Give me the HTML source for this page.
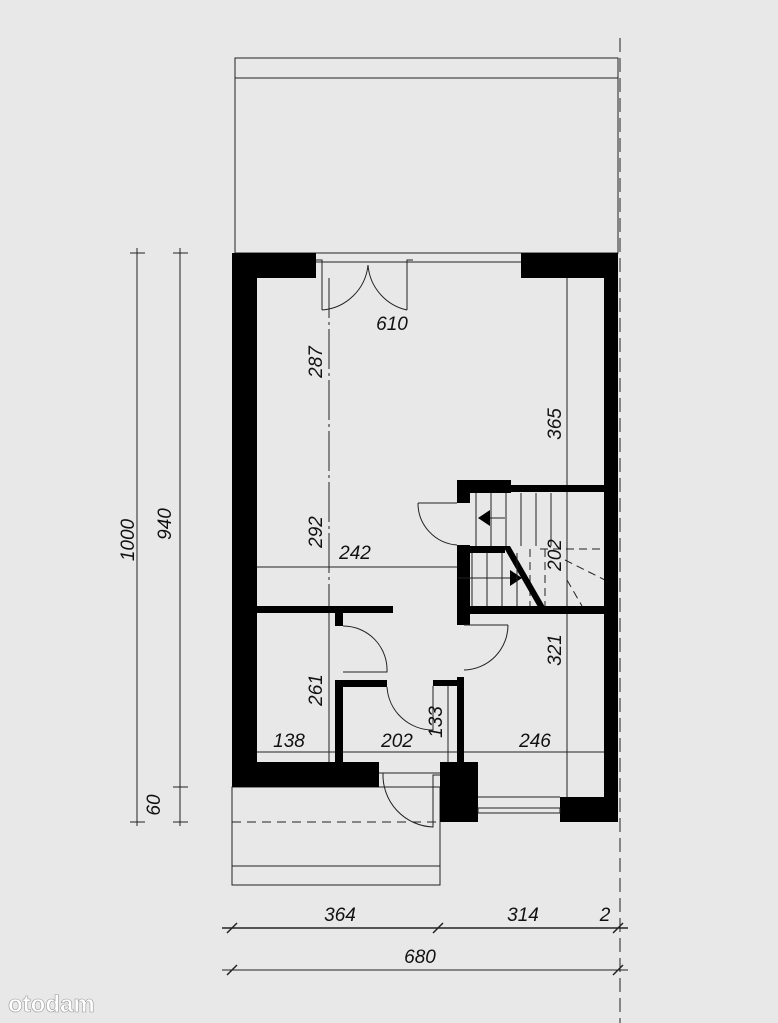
<!DOCTYPE html>
<html><head><meta charset="utf-8"><style>
html,body{margin:0;padding:0;background:#e8e8e8;}
svg{display:block}
text{font-family:"Liberation Sans",sans-serif;font-style:italic;fill:#111;font-size:19px}
</style></head><body>
<svg width="778" height="1023" viewBox="0 0 778 1023">
<rect width="778" height="1023" fill="#e8e8e8"/>
<g stroke="#222" fill="none" stroke-width="1">
<rect x="235" y="58" width="383" height="195"/>
<line x1="235" y1="78" x2="618" y2="78"/>
<rect x="232" y="787" width="208" height="98"/>
<line x1="232" y1="866" x2="440" y2="866"/>
<line x1="232" y1="822" x2="440" y2="822" stroke-dasharray="9,6"/>
<line x1="620" y1="38" x2="620" y2="1023" stroke-dasharray="14,6"/>
<line x1="540" y1="549" x2="604" y2="549" stroke-dasharray="8,5"/>
<line x1="530" y1="549" x2="530" y2="606" stroke-dasharray="8,5"/>
<line x1="545" y1="549" x2="545" y2="606" stroke-dasharray="8,5"/>
<line x1="565" y1="560" x2="605" y2="580" stroke-dasharray="8,5"/>
<line x1="567" y1="580" x2="582" y2="606" stroke-dasharray="8,5"/>
</g>
<g fill="#000">
<rect x="232" y="253" width="25" height="534"/>
<rect x="232" y="253" width="84" height="25"/>
<rect x="521" y="253" width="97" height="25"/>
<rect x="604" y="253" width="14" height="569"/>
<rect x="232" y="762" width="147" height="25"/>
<rect x="440" y="762" width="38" height="60"/>
<rect x="560" y="797" width="58" height="25"/>
<rect x="257" y="606" width="136" height="7"/>
<rect x="335" y="613" width="8" height="13"/>
<rect x="335" y="680" width="8" height="82"/>
<rect x="343" y="680" width="44" height="7"/>
<rect x="433" y="680" width="24" height="6"/>
<rect x="457" y="677" width="7" height="90"/>
<rect x="457" y="480" width="54" height="13"/>
<rect x="510" y="485" width="94" height="7"/>
<rect x="457" y="480" width="13" height="23"/>
<rect x="457" y="545" width="13" height="80"/>
<rect x="457" y="546" width="48" height="7"/>
<rect x="457" y="606" width="147" height="8"/>
<polygon points="503,546 510,546 545,607 538,607"/>
<polygon points="478,518 490,510 490,526"/>
<polygon points="522,578 510,570 510,586"/>
</g>
<g stroke="#222" fill="none" stroke-width="1">
<line x1="476" y1="493" x2="476" y2="546"/><line x1="491" y1="493" x2="491" y2="546"/>
<line x1="506" y1="493" x2="506" y2="546"/><line x1="521" y1="493" x2="521" y2="546"/>
<line x1="536" y1="493" x2="536" y2="546"/><line x1="551" y1="493" x2="551" y2="546"/>
<line x1="472" y1="553" x2="472" y2="606"/><line x1="487" y1="553" x2="487" y2="606"/>
<line x1="502" y1="553" x2="502" y2="606"/><line x1="517" y1="553" x2="517" y2="606"/>
<line x1="490" y1="518" x2="505" y2="518"/><line x1="458" y1="578" x2="510" y2="578"/>
<path d="M316 260 L322 260 L322 310 M322 310 A50 50 0 0 0 368 265"/>
<path d="M413 260 L407 260 L407 310 M407 310 A50 50 0 0 1 368 265"/>
<line x1="316" y1="262" x2="521" y2="262"/>
<path d="M457 503 L418 503 M418 503 A42 42 0 0 0 457 545"/>
<path d="M464 625 L508 625 M508 625 A45 45 0 0 1 464 670"/>
<path d="M343 626 A44 44 0 0 1 387 672 L343 672"/>
<path d="M387 687 A46 46 0 0 0 433 730 L433 686"/>
<path d="M383 773 A52 52 0 0 0 433 827 L433 775 L440 775"/>
<line x1="379" y1="773" x2="440" y2="773"/>
<rect x="478" y="808" width="82" height="5"/>
<line x1="478" y1="797" x2="560" y2="797"/>
<line x1="137" y1="248" x2="137" y2="826"/>
<line x1="180" y1="248" x2="180" y2="826"/>
<line x1="130" y1="253" x2="145" y2="253"/><line x1="130" y1="822" x2="145" y2="822"/>
<line x1="173" y1="253" x2="188" y2="253"/><line x1="173" y1="787" x2="188" y2="787"/><line x1="173" y1="822" x2="188" y2="822"/>
<line x1="222" y1="928" x2="628" y2="928" stroke-width="1.5"/>
<line x1="222" y1="970" x2="628" y2="970"/>
<g stroke-width="1.5">
<line x1="227" y1="933" x2="237" y2="923"/><line x1="433" y1="933" x2="443" y2="923"/><line x1="613" y1="933" x2="623" y2="923"/>
<line x1="227" y1="975" x2="237" y2="965"/><line x1="613" y1="975" x2="623" y2="965"/>
</g>
<line x1="329" y1="278" x2="329" y2="606" stroke-dasharray="40,4,3,4"/>
<line x1="329" y1="613" x2="329" y2="762"/>
<line x1="257" y1="567" x2="457" y2="567"/>
<line x1="567" y1="278" x2="567" y2="485"/>
<line x1="567" y1="492" x2="567" y2="606"/>
<line x1="567" y1="614" x2="567" y2="797"/>
<line x1="257" y1="752" x2="335" y2="752"/>
<line x1="343" y1="752" x2="457" y2="752"/>
<line x1="464" y1="752" x2="604" y2="752"/>
<line x1="448" y1="686" x2="448" y2="762"/>
</g>
<text x="128" y="540" transform="rotate(-90 128 540)" text-anchor="middle" dy="6">1000</text>
<text x="172" y="524" transform="rotate(-90 172 524)" text-anchor="middle" dy="-1">940</text>
<text x="160" y="805" transform="rotate(-90 160 805)" text-anchor="middle">60</text>
<text x="392" y="330" text-anchor="middle">610</text>
<text x="322" y="362" transform="rotate(-90 322 362)" text-anchor="middle">287</text>
<text x="322" y="532" transform="rotate(-90 322 532)" text-anchor="middle">292</text>
<text x="355" y="559" text-anchor="middle">242</text>
<text x="561" y="424" transform="rotate(-90 561 424)" text-anchor="middle">365</text>
<text x="561" y="555" transform="rotate(-90 561 555)" text-anchor="middle">202</text>
<text x="561" y="650" transform="rotate(-90 561 650)" text-anchor="middle">321</text>
<text x="322" y="690" transform="rotate(-90 322 690)" text-anchor="middle">261</text>
<text x="289" y="747" text-anchor="middle">138</text>
<text x="397" y="747" text-anchor="middle">202</text>
<text x="442" y="722" transform="rotate(-90 442 722)" text-anchor="middle">133</text>
<text x="535" y="747" text-anchor="middle">246</text>
<text x="340" y="921" text-anchor="middle">364</text>
<text x="523" y="921" text-anchor="middle">314</text>
<text x="605" y="921" text-anchor="middle">2</text>
<text x="420" y="963" text-anchor="middle">680</text>
<text x="8" y="1012" style="font-style:normal;font-weight:bold;font-size:24px;fill:#fff;stroke:#999;stroke-width:0.6">otodam</text>
</svg>
</body></html>
